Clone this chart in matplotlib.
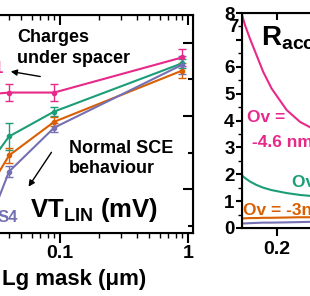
import matplotlib
matplotlib.use('Agg')
import matplotlib.pyplot as plt
from matplotlib.ticker import (MultipleLocator, FixedLocator, LogLocator, NullFormatter,
                               FuncFormatter, FormatStrFormatter)

plt.rcParams['font.family'] = 'Liberation Sans'
plt.rcParams['font.weight'] = 'bold'
plt.rcParams['mathtext.fontset'] = 'custom'
plt.rcParams['mathtext.rm'] = 'Liberation Sans:bold'
plt.rcParams['mathtext.it'] = 'Liberation Sans:bold'
plt.rcParams['mathtext.bf'] = 'Liberation Sans:bold'

# left panel: VT_LIN (mV) vs Lg mask (um), first point is off the visible crop
lg_mask = [0.03, 0.04, 0.09, 0.9]
vt_s1 = [465, 466, 466, 490]
vt_s2 = [421, 436, 453, 486]
vt_s3 = [405, 423, 446, 481]
vt_s4 = [384, 412, 442, 485]
err_s1 = [0, 6, 6, 6]
err_s2 = [0, 9, 3, 3]
err_s3 = [0, 5, 3, 5]
err_s4 = [0, 4, 3, 6]

# right panel: R_acc vs Lg for several overlaps
lg_r = [0.10, 0.110, 0.124, 0.143, 0.162, 0.186, 0.229, 0.267, 0.30]
racc_ov46 = [8.0, 7.55, 7.05, 6.43, 5.81, 5.19, 4.39, 3.95, 3.72]
racc_ov40 = [1.97, 1.86, 1.73, 1.60, 1.50, 1.41, 1.30, 1.23, 1.19]
racc_ov30 = [0.36, 0.36, 0.37, 0.37, 0.38, 0.38, 0.39, 0.40, 0.40]
racc_ov20 = [0.17, 0.17, 0.18, 0.19, 0.20, 0.20, 0.21, 0.22, 0.23]

pink, green, orange, purple = '#e7298a', '#1b9e77', '#d95f02', '#7570b3'

W, H = 310, 296
fig = plt.figure(figsize=(W / 100, H / 100), dpi=100)


def pix(x, y):
    return (x, H - y)


# ---- left panel
ax1 = fig.add_axes([-68 / W, 1 - 233 / H, 261 / W, 218 / H])
ax1.set_xscale('log')
for vals, err, c in [(vt_s1, err_s1, pink), (vt_s2, err_s2, green),
                     (vt_s3, err_s3, orange), (vt_s4, err_s4, purple)]:
    ax1.errorbar(lg_mask, vals, yerr=err, color=c, lw=1.5, marker='o', ms=3,
                 elinewidth=1, capsize=3, capthick=1)
top1 = ax1.twiny()
top1.set_xscale('log')
ax1.set_xlim(0.01, 1.094)
top1.set_xlim(0.01, 1.094)
ax1.set_ylim(370, 519)
ax1.yaxis.set_major_locator(MultipleLocator(50))
ax1.yaxis.set_minor_locator(MultipleLocator(25))
ax1.xaxis.set_major_locator(FixedLocator([0.1, 1]))
ax1.xaxis.set_major_formatter(FuncFormatter(lambda v, p: '%g' % v))
ax1.xaxis.set_minor_locator(LogLocator(base=10, subs=range(2, 10)))
ax1.xaxis.set_minor_formatter(NullFormatter())
ax1.tick_params(axis='x', which='major', direction='out', length=7, width=1.5,
                labelsize=14, pad=2)
ax1.tick_params(axis='x', which='minor', direction='out', length=3.5, width=1)
ax1.tick_params(axis='y', which='both', left=False, right=True, labelleft=False,
                direction='in', width=1.5)
ax1.tick_params(axis='y', which='major', length=7)
ax1.tick_params(axis='y', which='minor', length=3.5)
for s in ax1.spines.values():
    s.set_linewidth(1.5)
ax1.set_xlabel('Lg mask (μm)', fontsize=16, fontweight='bold', ha='left', va='center')
ax1.xaxis.set_label_coords(70 / 261, -47 / 218)

top1.xaxis.set_major_locator(FixedLocator([0.1, 1]))
top1.xaxis.set_minor_locator(LogLocator(base=10, subs=range(2, 10)))
top1.xaxis.set_major_formatter(NullFormatter())
top1.xaxis.set_minor_formatter(NullFormatter())
top1.tick_params(axis='x', which='major', direction='in', length=7, width=1.5)
top1.tick_params(axis='x', which='minor', direction='in', length=3.5, width=1)

# multi-line texts: anchored at the baseline of their last line
ax1.annotate('Charges\nunder spacer', xy=pix(17, 63), xycoords='figure pixels',
             fontsize=13, fontweight='bold', ha='left', va='baseline', linespacing=1.3)
ax1.annotate('', xy=pix(8, 71), xytext=pix(43, 77), xycoords='figure pixels',
             textcoords='figure pixels',
             arrowprops=dict(arrowstyle='-|>', color='black', lw=1, mutation_scale=9))
ax1.annotate('Normal SCE\nbehaviour', xy=pix(69, 173), xycoords='figure pixels',
             fontsize=13, fontweight='bold', ha='left', va='baseline', linespacing=1.2)
ax1.annotate('', xy=pix(27, 189), xytext=pix(53, 150), xycoords='figure pixels',
             textcoords='figure pixels',
             arrowprops=dict(arrowstyle='-|>', color='black', lw=1, mutation_scale=9))
ax1.annotate(r'VT$_{\mathrm{LIN}}$ (mV)', xy=pix(30, 217), xycoords='figure pixels',
             fontsize=18.5, fontweight='bold', ha='left', va='baseline')
ax1.annotate('S4', xy=pix(18, 222), xycoords='figure pixels', color=purple,
             fontsize=12, fontweight='bold', ha='right', va='baseline')
ax1.annotate('S1', xy=pix(3.5, 73), xycoords='figure pixels', color=pink,
             fontsize=12, fontweight='bold', ha='right', va='baseline')

# ---- right panel
ax2 = fig.add_axes([241.5 / W, 1 - 228 / H, 315 / W, 215 / H])
ax2.plot(lg_r, racc_ov46, color=pink, lw=1.5)
ax2.plot(lg_r, racc_ov40, color=green, lw=1.5)
ax2.plot(lg_r, racc_ov30, color=orange, lw=1.5)
ax2.plot(lg_r, racc_ov20, color=purple, lw=1.5)
top2 = ax2.twiny()
ax2.set_xlim(0.1, 1.0)
top2.set_xlim(0.1, 1.0)
ax2.set_ylim(0, 8)
ax2.xaxis.set_major_locator(MultipleLocator(0.2))
ax2.xaxis.set_major_formatter(FormatStrFormatter('%.1f'))
ax2.yaxis.set_major_locator(MultipleLocator(1))
ax2.yaxis.set_minor_locator(MultipleLocator(0.5))
# the 7 label sits higher in the reference, drawn separately below
ax2.yaxis.set_major_formatter(FuncFormatter(lambda v, p: '' if round(v) == 7 else '%d' % round(v)))
ax2.tick_params(axis='x', which='major', direction='out', length=6, width=1.5,
                labelsize=14, pad=3)
ax2.tick_params(axis='y', which='major', direction='out', length=4, width=1.5,
                labelsize=13.5, pad=1)
ax2.tick_params(axis='y', which='minor', direction='out', length=3, width=1)
for s in ax2.spines.values():
    s.set_linewidth(1.5)
top2.xaxis.set_major_locator(MultipleLocator(0.2))
top2.xaxis.set_major_formatter(NullFormatter())
top2.tick_params(axis='x', which='major', direction='in', length=5, width=1.5)

ax2.annotate('7', xy=pix(239, 32), xycoords='figure pixels',
             fontsize=13.5, fontweight='bold', ha='right', va='baseline')
ax2.annotate(r'R$_{\mathrm{acc}}$', xy=pix(261, 45), xycoords='figure pixels',
             fontsize=20, fontweight='bold', ha='left', va='baseline')
ax2.annotate('Ov =', xy=pix(247, 122), xycoords='figure pixels', color=pink,
             fontsize=12.5, fontweight='bold', ha='left', va='baseline')
ax2.annotate('-4.6 nm', xy=pix(252, 147), xycoords='figure pixels', color=pink,
             fontsize=12.5, fontweight='bold', ha='left', va='baseline')
ax2.annotate('Ov = -4 nm', xy=pix(292, 187), xycoords='figure pixels', color=green,
             fontsize=12.5, fontweight='bold', ha='left', va='baseline')
ax2.annotate('Ov = -3nm', xy=pix(243, 215), xycoords='figure pixels', color=orange,
             fontsize=12.5, fontweight='bold', ha='left', va='baseline')

fig.savefig('out.png', dpi=100)
